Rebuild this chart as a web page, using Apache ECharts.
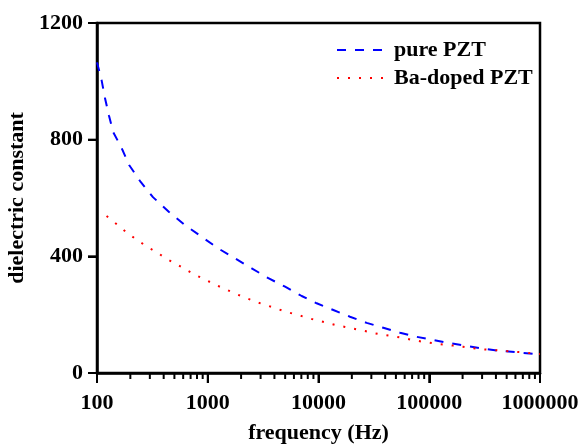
<!DOCTYPE html>
<html>
<head>
<meta charset="utf-8">
<script src="https://cdn.jsdelivr.net/npm/echarts@6/dist/echarts.min.js"></script>
<style>html,body{margin:0;padding:0;background:#fff;}#c{width:581px;height:444px;}</style>
</head>
<body>
<div id="c"></div>
<script>
var seriesNames = ['pure PZT', 'Ba-doped PZT'];
var xTickLabels = [100, 1000, 10000, 100000, 1000000];
var xMinorTicks = [200,300,400,500,600,700,800,900,2000,3000,4000,5000,6000,7000,8000,9000,20000,30000,40000,50000,60000,70000,80000,90000,200000,300000,400000,500000,600000,700000,800000,900000];
var yTickLabels = [0, 400, 800, 1200];

var pureFreq = [100,110,118,128,140,167,195,248,320,447,623,882,1245,1762,2494,3525,4990,7050,9630,13620,19240,27230,38480,54440,77000,108900,153900,217800,307800,435400,616000,871000,1000000];
var pureVal  = [1065,1004,943,884,826,771,713,655,603,552,507,467,427,393,359,325,296,264,239,216,193,172,155,138,124,113,102,93,83,76,71,66,64];

var baFreq = [122,151,185,228,281,346,426,524,645,795,964,1180,1452,1799,2201,2711,3337,4108,5057,6224,7660,9290,11440,14090,17350,21370,26310,32400,39900,49130,60400,71300,87800,108000,133000,163800,201700,248300,305800,376600,463700,571000,703000,865000,1000000];
var baVal  = [538,510,482,457,434,414,391,373,353,334,319,302,287,271,258,244,233,222,210,201,191,182,174,165,158,151,144,136,130,125,119,113,107,102,98,94,90,85,81,79,76,73,71,67,65];

function pairs(xs, ys){ return xs.map(function(x,i){ return [x, ys[i]]; }); }

var xMin = xTickLabels[0], xMax = xTickLabels[xTickLabels.length - 1];
var yMin = yTickLabels[0], yMax = yTickLabels[yTickLabels.length - 1];

function tickSeries(data, dir, len) {
  return {
    type: 'custom', silent: true, clip: false, z: 5, legendHoverLink: false,
    data: data,
    renderItem: function (params, api) {
      var p = api.coord([api.value(0), api.value(1)]);
      var shape = dir === 'down'
        ? { x1: p[0], y1: p[1], x2: p[0], y2: p[1] + len }
        : { x1: p[0] - len, y1: p[1], x2: p[0], y2: p[1] };
      return { type: 'line', shape: shape, style: { stroke: '#000', lineWidth: 2 } };
    }
  };
}

var font = 'Liberation Serif';
function lbl(extra){ var o = { fontFamily: font, fontWeight: 'bold', fontSize: 22, color: '#000' }; for (var k in extra) o[k] = extra[k]; return o; }
var chart = echarts.init(document.getElementById('c'));
chart.setOption({
  animation: false,
  backgroundColor: '#fff',
  grid: { left: 97, right: 41, top: 23, bottom: 71, outerBoundsMode: 'none', show: true, borderColor: '#000', borderWidth: 2.5 },
  legend: {
    orient: 'vertical', left: 331, top: 34, itemWidth: 52, itemHeight: 14, itemGap: 6,
    itemStyle: { opacity: 0 },
    textStyle: lbl({}),
    data: seriesNames
  },
  xAxis: {
    type: 'log', min: xMin, max: xMax,
    name: 'frequency (Hz)', nameLocation: 'middle', nameGap: 49, nameTextStyle: lbl({}),
    axisLine: { show: true, lineStyle: { color: '#000', width: 2.5 } },
    axisTick: { show: true, length: 10, lineStyle: { color: '#000', width: 2 } },
    minorTick: { show: false },
    axisLabel: lbl({ margin: 19, formatter: function(v){ return String(Math.round(v)); } }),
    splitLine: { show: false }, minorSplitLine: { show: false }
  },
  yAxis: {
    type: 'value', min: yMin, max: yMax, interval: 400,
    name: 'dielectric constant', nameLocation: 'middle', nameGap: 64, nameTextStyle: lbl({}),
    axisLine: { show: true, lineStyle: { color: '#000', width: 2.5 } },
    axisTick: { show: true, length: 9, lineStyle: { color: '#000', width: 2 } },
    axisLabel: lbl({ margin: 14, formatter: function(v){ return String(v); } }),
    splitLine: { show: false }
  },
  series: [{
    name: seriesNames[0], type: 'line', symbol: 'none',
    lineStyle: { color: '#0000ff', width: 2, type: [9, 9] }, itemStyle: { color: '#0000ff' },
    data: pairs(pureFreq, pureVal)
  }, {
    name: seriesNames[1], type: 'line', symbol: 'none',
    lineStyle: { color: '#ff0000', width: 2, type: [2, 9] }, itemStyle: { color: '#ff0000' },
    data: pairs(baFreq, baVal)
  },
  tickSeries(xTickLabels.map(function(v){ return [v, yMin]; }), 'down', 10),
  tickSeries(xMinorTicks.map(function(v){ return [v, yMin]; }), 'down', 6),
  tickSeries(yTickLabels.map(function(v){ return [xMin, v]; }), 'left', 9)
  ]
});
</script>
</body>
</html>
